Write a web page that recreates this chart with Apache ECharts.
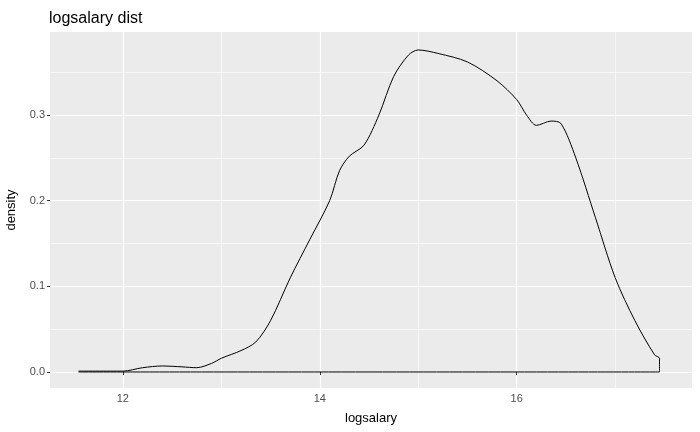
<!DOCTYPE html>
<html style="height: 100%">
<head>
<meta charset="utf-8">
<script src="https://cdn.jsdelivr.net/npm/echarts@6/dist/echarts.min.js"></script>
</head>
<body style="height: 100%; margin: 0">
<div id="container" style="width:700px;height:432px"></div>
<script>
var xs = [11.55, 12.0, 12.2, 12.4, 12.6, 12.75, 12.9, 13.0, 13.2, 13.35, 13.5, 13.7, 13.9, 14.1, 14.2, 14.3, 14.45, 14.6, 14.75, 14.9, 15.0, 15.2, 15.5, 15.8, 16.0, 16.1, 16.2, 16.35, 16.45, 16.6, 16.8, 17.0, 17.2, 17.4, 17.45];
var dens = [0.001, 0.001, 0.005, 0.007, 0.006, 0.005, 0.01, 0.016, 0.025, 0.035, 0.06, 0.11, 0.155, 0.20, 0.235, 0.252, 0.265, 0.30, 0.345, 0.370, 0.376, 0.372, 0.362, 0.340, 0.318, 0.300, 0.288, 0.293, 0.290, 0.25, 0.18, 0.11, 0.06, 0.02, 0.016];
var xMajor = [12, 14, 16], xMinor = [11, 13, 15, 17];
var yMajor = [0, 0.1, 0.2, 0.3], yMinor = [0.05, 0.15, 0.25, 0.35];

var pts = xs.map(function (x, i) { return [x, dens[i]]; });
// close the outline like geom_density
pts.push([xs[xs.length - 1], 0]);
pts.push([xs[0], 0]);

var lbl = { color: '#4D4D4D', fontSize: 11, fontFamily: 'Liberation Sans', margin: 5 };
function majorAxis(min, max, vals, name, gap, fmt) {
  return {
    type: 'value', min: min, max: max, name: name, nameLocation: 'middle', nameGap: gap,
    nameTextStyle: { color: '#000', fontSize: 13, fontFamily: 'Liberation Sans' },
    axisLine: { show: false },
    axisTick: { show: true, length: 3, customValues: vals, lineStyle: { color: '#333' } },
    axisLabel: Object.assign({ customValues: vals, formatter: fmt }, lbl),
    splitLine: { show: true, lineStyle: { color: '#fff', width: 1.2 } }
  };
}
function minorAxis(min, max, vals) {
  return {
    type: 'value', min: min, max: max,
    axisLine: { show: false },
    axisTick: { show: false, customValues: vals },
    axisLabel: { show: false, customValues: vals },
    splitLine: { show: true, lineStyle: { color: '#fff', width: 0.6 } }
  };
}
var chart = echarts.init(document.getElementById('container'));
chart.setOption({
  title: { text: 'logsalary dist', left: 44, top: 6, textStyle: { color: '#000', fontSize: 16, fontWeight: 'normal', fontFamily: 'Liberation Sans' } },
  grid: { left: 50, right: 8, top: 32, bottom: 44, outerBoundsMode: 'none', containLabel: false, show: true, backgroundColor: '#EBEBEB', borderWidth: 0 },
  xAxis: [
    majorAxis(11.26, 17.78, xMajor, 'logsalary', 24, function (v) { return v; }),
    minorAxis(11.26, 17.78, xMinor)
  ],
  yAxis: [
    majorAxis(-0.0187, 0.397, yMajor, 'density', 32, function (v) { return v.toFixed(1); }),
    minorAxis(-0.0187, 0.397, yMinor)
  ],
  series: [{
    type: 'line', data: pts, showSymbol: false, smooth: 0.3, animation: false,
    lineStyle: { color: '#000', width: 1 }
  }]
});
</script>
</body>
</html>
